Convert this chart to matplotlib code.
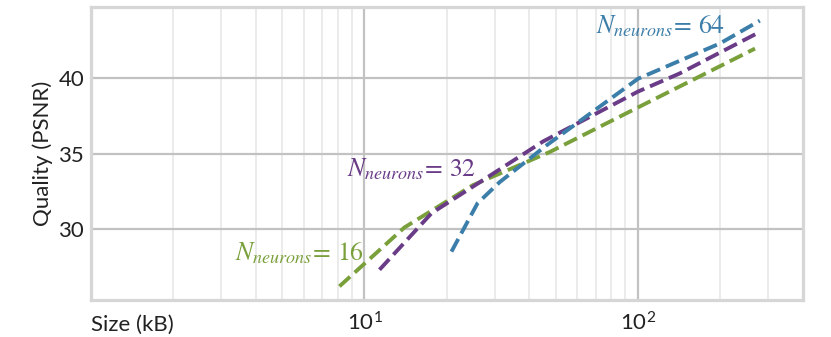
import matplotlib
matplotlib.use('Agg')
import matplotlib.pyplot as plt
from matplotlib.ticker import FixedLocator, FixedFormatter, LogLocator, NullFormatter

plt.rcParams['font.family'] = ['Lato', 'DejaVu Sans']
plt.rcParams['mathtext.fontset'] = 'stix'

# size (kB) / PSNR per network width
size_16 = [8.1, 14.0, 24.9, 47.6, 100, 268]
psnr_16 = [26.2, 30.1, 32.9, 35.1, 38.05, 41.95]

size_32 = [11.35, 17.6, 24.9, 45.0, 100, 142, 272]
psnr_32 = [27.3, 31.05, 32.8, 35.8, 39.1, 40.3, 42.95]

size_64 = [20.8, 25.9, 31.2, 46.4, 100, 200, 279]
psnr_64 = [28.5, 31.7, 33.1, 35.55, 39.95, 42.3, 43.8]

labels = [r'$N_{neurons}\!=\,16$', r'$N_{neurons}\!=\,32$', r'$N_{neurons}\!=\,64$']
label_pos = [(3.35, 27.9), (8.6, 33.5), (70, 42.95)]

green = '#7aa03c'
purple = '#6a3c88'
blue = '#3c7eaa'

fig = plt.figure(figsize=(8.31, 3.37), dpi=100)
ax = fig.add_axes([0.1095, 0.11, 0.857, 0.869])

ax.plot(size_16, psnr_16, '--', color=green, lw=2.8)
ax.plot(size_32, psnr_32, '--', color=purple, lw=2.8)
ax.plot(size_64, psnr_64, '--', color=blue, lw=2.8)

for txt, (x, y), c in zip(labels, label_pos, [green, purple, blue]):
    ax.text(x, y, txt, color=c, fontsize=18.5)

ax.set_xscale('log')
ax.set_xlim(1, 402)
ax.set_ylim(25.3, 44.7)

ax.xaxis.set_major_locator(FixedLocator([10, 100]))
ax.xaxis.set_major_formatter(FixedFormatter([r'$\mathregular{10^1}$', r'$\mathregular{10^2}$']))
ax.xaxis.set_minor_locator(LogLocator(base=10, subs=range(2, 10), numticks=20))
ax.xaxis.set_minor_formatter(NullFormatter())
ax.set_yticks([30, 35, 40])

ax.grid(which='major', color='#c2c2c2', lw=1.6)
ax.grid(which='minor', axis='x', color='#e6e6e6', lw=1.1)
ax.set_axisbelow(True)

ax.tick_params(which='both', length=0, labelsize=16, colors='#222222')
ax.tick_params(axis='x', pad=8)
ax.tick_params(axis='y', pad=5)
for s in ax.spines.values():
    s.set_color('#d6d6d6')
    s.set_linewidth(2.3)

ax.set_ylabel('Quality (PSNR)', fontsize=16, color='#222222', labelpad=4)
ax.set_xlabel('Size (kB)', fontsize=16, color='#222222', loc='left', labelpad=-14)

fig.savefig('out.png', dpi=100)
